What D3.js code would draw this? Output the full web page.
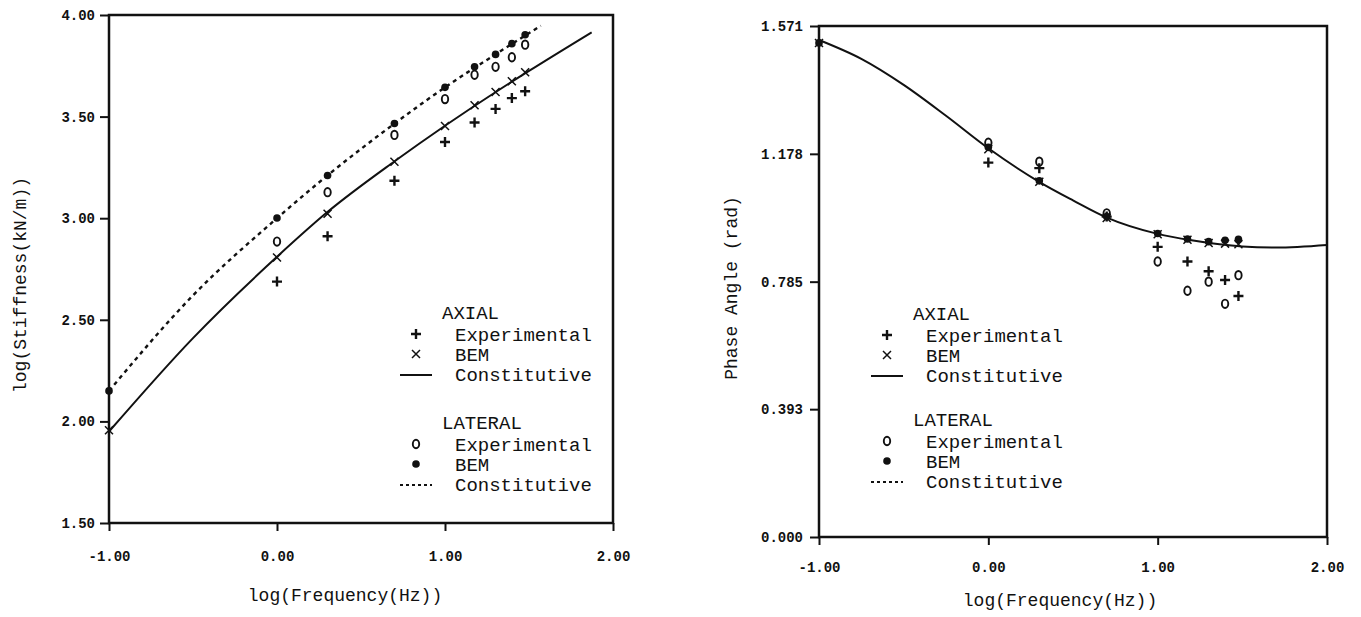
<!DOCTYPE html>
<html>
<head>
<meta charset="utf-8">
<script src="https://cdn.jsdelivr.net/npm/d3@7"></script>
<style>
body { margin: 0; background: #fff; }
text { font-family: "Liberation Mono", "DejaVu Sans Mono", monospace; fill: #111; }
</style>
</head>
<body>
<div id="chart"></div>
<script>
// log10 of the test frequencies (0.1, 1, 2, 5, 10, 15, 20, 25, 30 Hz)
var logFreq = [-1, 0, 0.301, 0.699, 1, 1.176, 1.301, 1.398, 1.477];
var expFreq = [0, 0.301, 0.699, 1, 1.176, 1.301, 1.398, 1.477];

var xTicks = [-1, 0, 1, 2];
var stiffTicks = [1.5, 2, 2.5, 3, 3.5, 4];
var phaseTicks = [0, 0.393, 0.785, 1.178, 1.571];

// stiffness panel
var stiffAxialExp = [2.688, 2.911, 3.184, 3.375, 3.471, 3.538, 3.591, 3.625];
var stiffAxialBem = [1.956, 2.807, 3.022, 3.278, 3.454, 3.556, 3.621, 3.674, 3.718];
var stiffLatExp = [2.885, 3.128, 3.41, 3.586, 3.706, 3.745, 3.792, 3.854];
var stiffLatBem = [2.15, 3.001, 3.21, 3.466, 3.644, 3.745, 3.806, 3.859, 3.903];
var stiffAxialConstX = [-1, -0.5, 0, 0.3, 0.7, 1.0, 1.3, 1.5, 1.873];
var stiffAxialConstY = [1.95, 2.41, 2.81, 3.03, 3.28, 3.455, 3.62, 3.725, 3.915];
var stiffLatConstX = [-1, -0.5, 0, 0.3, 0.7, 1.0, 1.3, 1.57];
var stiffLatConstY = [2.15, 2.62, 3.0, 3.21, 3.466, 3.644, 3.806, 3.947];

// phase panel
var phaseAxialExp = [1.151, 1.134, 0.985, 0.892, 0.847, 0.817, 0.790, 0.741];
var phaseAxialBem = [1.519, 1.192, 1.092, 0.981, 0.931, 0.914, 0.904, 0.902, 0.900];
var phaseLatExp = [1.212, 1.154, 0.995, 0.847, 0.757, 0.785, 0.717, 0.805];
var phaseLatBem = [1.519, 1.198, 1.095, 0.985, 0.933, 0.916, 0.908, 0.912, 0.915];
var phaseAxialConstX = [-1, -0.75, -0.5, -0.25, 0, 0.3, 0.5, 0.7, 1.0, 1.2, 1.5, 1.7, 2.0];
var phaseAxialConstY = [1.528, 1.47, 1.39, 1.295, 1.195, 1.092, 1.035, 0.982, 0.932, 0.912, 0.893, 0.890, 0.898];

var legendGroups = ["AXIAL", "LATERAL"];
var legendItems = ["Experimental", "BEM", "Constitutive"];

var svg = d3.select("#chart").append("svg")
    .attr("width", 1361)
    .attr("height", 617);

function zip(xs, ys) {
    return xs.map(function(d, i) { return [d, ys[i]]; });
}

function marker(g, type, x, y) {
    if (type == "plus") {
        g.append("path").attr("d", "M" + (x - 5) + "," + y + "h10M" + x + "," + (y - 5) + "v10")
            .attr("stroke", "#111").attr("stroke-width", 2.4);
    } else if (type == "cross") {
        g.append("path").attr("d", "M" + (x - 4) + "," + (y - 4) + "l8,8M" + (x - 4) + "," + (y + 4) + "l8,-8")
            .attr("stroke", "#111").attr("stroke-width", 1.5);
    } else if (type == "open") {
        g.append("ellipse").attr("cx", x).attr("cy", y).attr("rx", 3.2).attr("ry", 4.2)
            .attr("fill", "none").attr("stroke", "#111").attr("stroke-width", 1.9);
    } else {
        g.append("circle").attr("cx", x).attr("cy", y).attr("r", 3.8).attr("fill", "#111");
    }
}

function panel(p) {
    var x = d3.scaleLinear().domain([-1, 2]).range([p.left, p.right]);
    var y = d3.scaleLinear().domain(p.yDomain).range([p.bottom, p.top]);
    var g = svg.append("g");

    var yAxis = g.append("g")
        .attr("transform", "translate(" + p.left + ",0)")
        .call(d3.axisLeft(y).tickValues(p.yTicks).tickSize(9).tickPadding(p.yPad).tickSizeOuter(0)
            .tickFormat(function(d) { return d.toFixed(p.yDigits); }));
    var xAxis = g.append("g")
        .attr("transform", "translate(0," + p.bottom + ")")
        .call(d3.axisBottom(x).tickValues(xTicks).tickSize(8).tickPadding(p.xPad).tickSizeOuter(0)
            .tickFormat(function(d) { return d.toFixed(2); }));
    [yAxis, xAxis].forEach(function(a) {
        a.select(".domain").remove();
        a.selectAll("line").attr("stroke", "#111").attr("stroke-width", 2);
        a.selectAll("text").style("font-size", "14px").style("font-weight", "bold").attr("fill", "#111");
    });

    g.append("rect")
        .attr("x", p.left).attr("y", p.top)
        .attr("width", p.right - p.left).attr("height", p.bottom - p.top)
        .attr("fill", "none").attr("stroke", "#111").attr("stroke-width", 2.5);

    var line = d3.line()
        .x(function(d) { return x(d[0]); })
        .y(function(d) { return y(d[1]); })
        .curve(d3.curveMonotoneX);

    p.lines.forEach(function(l) {
        g.append("path")
            .datum(zip(l.xs, l.ys))
            .attr("fill", "none")
            .attr("stroke", "#111")
            .attr("stroke-width", l.dash ? 2.4 : 2)
            .attr("stroke-dasharray", l.dash ? "4,4" : null)
            .attr("d", line);
    });

    p.points.forEach(function(s) {
        s.xs.forEach(function(d, i) { marker(g, s.type, x(d), y(s.ys[i])); });
    });

    // legend
    var lg = g.append("g");
    var types = [["plus", "cross", "solid"], ["open", "dot", "dash"]];
    legendGroups.forEach(function(name, gi) {
        var gy = p.legY[gi];
        lg.append("text").attr("x", p.legX + 26).attr("y", gy).attr("dy", "0.35em")
            .style("font-size", "19px").text(name);
        legendItems.forEach(function(item, ii) {
            var iy = gy + 22 + ii * 20;
            var t = types[gi][ii];
            if (t == "solid" || t == "dash") {
                lg.append("line").attr("x1", p.legX - 16).attr("x2", p.legX + 16)
                    .attr("y1", iy + 1).attr("y2", iy + 1)
                    .attr("stroke", "#111").attr("stroke-width", 2)
                    .attr("stroke-dasharray", t == "dash" ? "3,3" : null);
            } else {
                marker(lg, t, p.legX, iy);
            }
            lg.append("text").attr("x", p.legX + 39).attr("y", iy).attr("dy", "0.35em")
                .style("font-size", "19px").text(item);
        });
    });

    g.append("text")
        .attr("x", p.xTitle[0]).attr("y", p.xTitle[1])
        .attr("text-anchor", "middle").attr("dy", "0.35em")
        .style("font-size", "18px").text("log(Frequency(Hz))");
    g.append("text")
        .attr("transform", "translate(" + p.yTitle[0] + "," + p.yTitle[1] + ") rotate(-90)")
        .attr("text-anchor", "middle").attr("dy", "0.35em")
        .style("font-size", "18px").text(p.yLabel);
}

function init() {
    panel({
        left: 109, right: 613, top: 15, bottom: 523,
        yDomain: [1.5, 4], yTicks: stiffTicks, yDigits: 2, yPad: 5, xPad: 20,
        lines: [
            { xs: stiffAxialConstX, ys: stiffAxialConstY, dash: false },
            { xs: stiffLatConstX, ys: stiffLatConstY, dash: true }
        ],
        points: [
            { type: "plus", xs: expFreq, ys: stiffAxialExp },
            { type: "cross", xs: logFreq, ys: stiffAxialBem },
            { type: "open", xs: expFreq, ys: stiffLatExp },
            { type: "dot", xs: logFreq, ys: stiffLatBem }
        ],
        legX: 416, legY: [312, 422],
        xTitle: [345, 595], yTitle: [20, 285],
        yLabel: "log(Stiffness(kN/m))"
    });
    panel({
        left: 819, right: 1327, top: 26, bottom: 537,
        yDomain: [0, 1.571], yTicks: phaseTicks, yDigits: 3, yPad: 7, xPad: 17,
        lines: [
            { xs: phaseAxialConstX, ys: phaseAxialConstY, dash: false }
        ],
        points: [
            { type: "plus", xs: expFreq, ys: phaseAxialExp },
            { type: "open", xs: expFreq, ys: phaseLatExp },
            { type: "dot", xs: logFreq, ys: phaseLatBem },
            { type: "cross", xs: logFreq, ys: phaseAxialBem }
        ],
        legX: 887, legY: [313, 419],
        xTitle: [1060, 600], yTitle: [731, 288],
        yLabel: "Phase Angle (rad)"
    });
}

init();
</script>
</body>
</html>
